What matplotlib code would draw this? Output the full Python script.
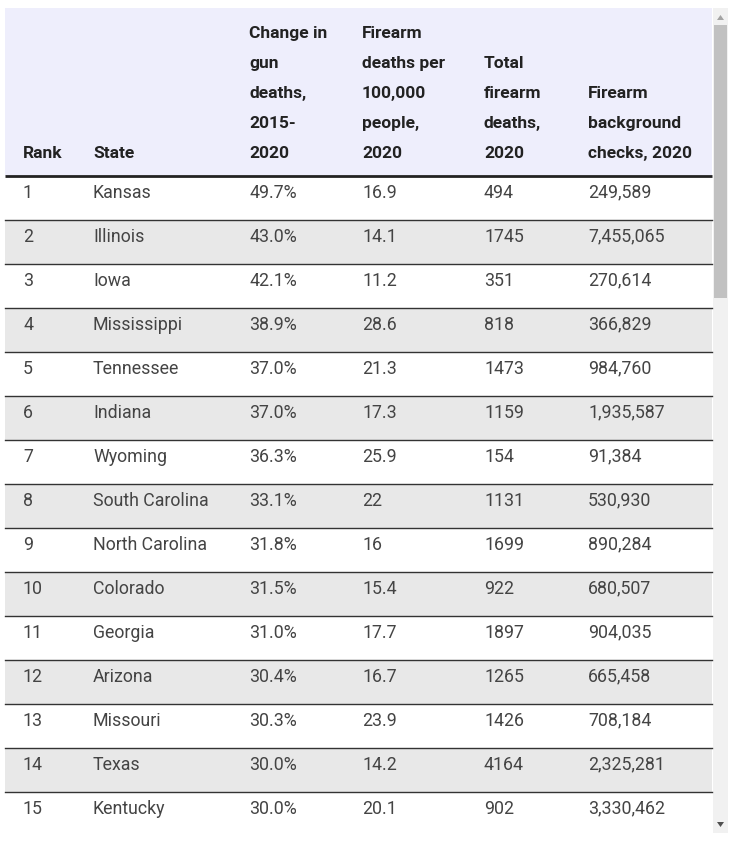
import matplotlib.pyplot as plt
from matplotlib.patches import Rectangle, Polygon

plt.rcParams['font.family'] = ['Roboto', 'DejaVu Sans']

headers = [
    "Rank",
    "State",
    "Change in\ngun\ndeaths,\n2015-\n2020",
    "Firearm\ndeaths per\n100,000\npeople,\n2020",
    "Total\nfirearm\ndeaths,\n2020",
    "Firearm\nbackground\nchecks, 2020",
]
ranks = list(range(1, 16))
states = ["Kansas", "Illinois", "Iowa", "Mississippi", "Tennessee", "Indiana",
          "Wyoming", "South Carolina", "North Carolina", "Colorado", "Georgia",
          "Arizona", "Missouri", "Texas", "Kentucky"]
change = ["49.7%", "43.0%", "42.1%", "38.9%", "37.0%", "37.0%", "36.3%", "33.1%",
          "31.8%", "31.5%", "31.0%", "30.4%", "30.3%", "30.0%", "30.0%"]
rate = ["16.9", "14.1", "11.2", "28.6", "21.3", "17.3", "25.9", "22", "16",
        "15.4", "17.7", "16.7", "23.9", "14.2", "20.1"]
total = ["494", "1745", "351", "818", "1473", "1159", "154", "1131", "1699",
         "922", "1897", "1265", "1426", "4164", "902"]
checks = ["249,589", "7,455,065", "270,614", "366,829", "984,760", "1,935,587",
          "91,384", "530,930", "890,284", "680,507", "904,035", "665,458",
          "708,184", "2,325,281", "3,330,462"]

col_x = [23, 93, 249, 362, 484, 588]
left, right = 5, 712
head_top, head_bot = 8, 176
row_h = 44
bottom = 833

fig = plt.figure(figsize=(7.4, 8.44), dpi=100)
ax = fig.add_axes([0, 0, 1, 1])
ax.set_xlim(0, 740)
ax.set_ylim(844, 0)
ax.axis('off')

# header, bottom-aligned, one text per line
ax.add_patch(Rectangle((left, head_top), right - left, head_bot - head_top,
                       color='#EEEEFC', lw=0))
for x, h in zip(col_x, headers):
    lines = h.split("\n")
    for k, line in enumerate(reversed(lines)):
        ax.text(x, 158 - 30 * k, line, ha='left', va='baseline', fontsize=12.5,
                fontweight='bold', color='#222222')
ax.plot([left, right], [head_bot, head_bot], color='#222222', lw=2,
        solid_capstyle='butt')

# rows
rows = list(zip(ranks, states, change, rate, total, checks))
for i, row in enumerate(rows):
    y0 = head_bot + i * row_h
    y1 = min(y0 + row_h, bottom)
    bg = '#E8E8E8' if i % 2 == 1 else 'white'
    ax.add_patch(Rectangle((left, y0), right - left, y1 - y0, color=bg, lw=0, zorder=0))
    if i > 0:
        ax.plot([left, right], [y0, y0], color='#333333', lw=1)
    for x, v in zip(col_x, row):
        ax.text(x, y0 + 21.5, str(v), ha='left', va='baseline', fontsize=12.8,
                color='#444444')

# scrollbar
ax.add_patch(Rectangle((713, head_top), 15, bottom - head_top, color='#F1F1F1', lw=0))
ax.add_patch(Rectangle((714, 25), 13, 273, color='#C1C1C1', lw=0))
ax.add_patch(Polygon([[717, 20], [724, 20], [720.5, 15]], color='#A3A3A3', lw=0))
ax.add_patch(Polygon([[717, 822], [724, 822], [720.5, 827]], color='#505050', lw=0))

fig.savefig('out.png', dpi=100, facecolor='white')
